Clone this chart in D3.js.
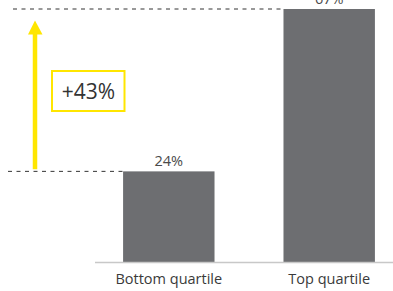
<!DOCTYPE html>
<html>
<head>
<meta charset="utf-8">
<script src="https://cdn.jsdelivr.net/npm/d3@7.9.0/dist/d3.min.js"></script>
<style>
    body { margin: 0; background: #fff; }
    svg { display: block; font-family: "Open Sans", "Liberation Sans", Arial, sans-serif; }
</style>
</head>
<body>
<svg id="chart" width="393" height="291"></svg>
<script>
const categories = ['Bottom quartile', 'Top quartile'];
const values = [24, 67];
const valueLabels = ['24%', '67%'];
const changeLabel = '+43%';

const svg = d3.select('#chart');

const x = d3.scaleBand()
    .domain(categories)
    .range([87, 411])
    .paddingInner(0.43)
    .paddingOuter(0.225);

const y = d3.scaleLinear()
    .domain([0, 67])
    .range([262, 9]);

// dashed reference lines at each bar's height
svg.append('line')
    .attr('x1', 13).attr('x2', x(categories[1]))
    .attr('y1', y(values[1])).attr('y2', y(values[1]))
    .attr('stroke', '#333').attr('stroke-width', 1)
    .attr('stroke-dasharray', '4,4.5');

svg.append('line')
    .attr('x1', 8).attr('x2', x(categories[0]))
    .attr('y1', y(values[0])).attr('y2', y(values[0]))
    .attr('stroke', '#333').attr('stroke-width', 1)
    .attr('stroke-dasharray', '4,4.5');

// bars
svg.selectAll('rect.bar')
    .data(values)
    .join('rect')
    .attr('class', 'bar')
    .attr('x', (d, i) => x(categories[i]))
    .attr('y', d => y(d))
    .attr('width', x.bandwidth())
    .attr('height', d => y(0) - y(d))
    .attr('fill', '#6d6e71');

svg.selectAll('text.val')
    .data(values)
    .join('text')
    .attr('class', 'val')
    .attr('x', (d, i) => x(categories[i]) + x.bandwidth() / 2)
    .attr('y', d => y(d) - 5)
    .attr('text-anchor', 'middle')
    .attr('font-size', 14.5)
    .attr('fill', '#4a4a4a')
    .text((d, i) => valueLabels[i]);

// baseline
svg.append('line')
    .attr('x1', 95).attr('x2', 393)
    .attr('y1', y(0) + 0.5).attr('y2', y(0) + 0.5)
    .attr('stroke', '#c8c8c8').attr('stroke-width', 1.3);

svg.selectAll('text.cat')
    .data(categories)
    .join('text')
    .attr('class', 'cat')
    .attr('x', d => x(d) + x.bandwidth() / 2)
    .attr('y', 284)
    .attr('text-anchor', 'middle')
    .attr('font-size', 14.5)
    .attr('fill', '#3a3a3a')
    .text(d => d);

// yellow arrow
const yellow = '#ffe600';
svg.append('line')
    .attr('x1', 35).attr('x2', 35)
    .attr('y1', y(values[0]) - 2).attr('y2', 33)
    .attr('stroke', yellow).attr('stroke-width', 4.5);

svg.append('path')
    .attr('d', `M28,34.5 L35,20.5 L42.5,34.5 Z`)
    .attr('fill', yellow);

svg.append('rect')
    .attr('x', 52).attr('y', 71)
    .attr('width', 72.5).attr('height', 40)
    .attr('fill', '#fff')
    .attr('stroke', yellow).attr('stroke-width', 2);

svg.append('text')
    .attr('x', 88.5).attr('y', 99)
    .attr('text-anchor', 'middle')
    .attr('font-size', 21)
    .attr('fill', '#333')
    .text(changeLabel);
</script>
</body>
</html>
